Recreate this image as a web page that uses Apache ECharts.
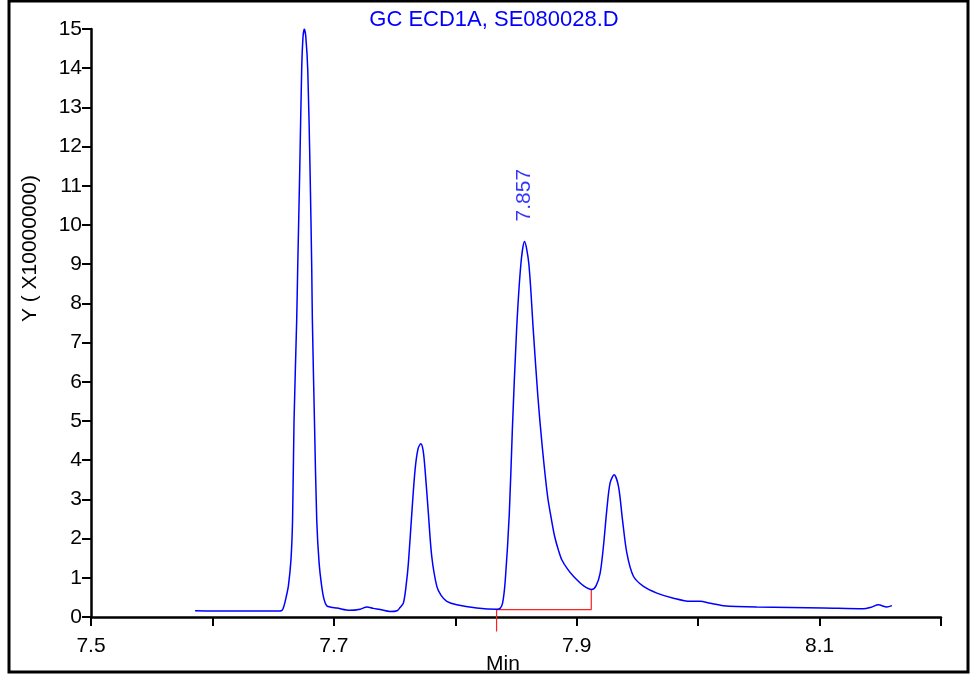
<!DOCTYPE html>
<html>
<head>
<meta charset="utf-8">
<script src="https://cdn.jsdelivr.net/npm/echarts@6/dist/echarts.min.js"></script>
<style>
  html, body { margin: 0; padding: 0; background: #ffffff; }
  #chart { width: 971px; height: 675px; }
</style>
</head>
<body>
<div id="chart"></div>
<script>
// Chromatogram trace: retention time (min) and detector signal (x10,000,000)
const retentionTime = [
  7.5857, 7.6145, 7.6392, 7.6540, 7.6573, 7.6590, 7.6608, 7.6626, 7.6647, 7.6660,
  7.6672, 7.6694, 7.6702, 7.6719, 7.6735, 7.6746, 7.6757, 7.6769, 7.6785, 7.6804,
  7.6818, 7.6823, 7.6841, 7.6859, 7.6878, 7.6900, 7.6919, 7.6941, 7.6977, 7.7024,
  7.7133, 7.7216, 7.7273, 7.7323, 7.7381, 7.7463, 7.7521, 7.7545, 7.7573, 7.7595,
  7.7614, 7.7642, 7.7669, 7.7694, 7.7716, 7.7735, 7.7751, 7.7778, 7.7806, 7.7848,
  7.7883, 7.7930, 7.8012, 7.8177, 7.8342, 7.8369, 7.8390, 7.8412, 7.8445, 7.8470,
  7.8505, 7.8541, 7.8570, 7.8605, 7.8642, 7.8680, 7.8716, 7.8760, 7.8790, 7.8818,
  7.8850, 7.8877, 7.8925, 7.8973, 7.9055, 7.9124, 7.9160, 7.9193, 7.9220, 7.9248,
  7.9275, 7.9308, 7.9344, 7.9377, 7.9413, 7.9467, 7.9550, 7.9660, 7.9797, 7.9934,
  8.0016, 8.0099, 8.0208, 8.0483, 8.1032, 8.1361, 8.1425, 8.1485, 8.1554, 8.1596
];
const signal = [
  0.16, 0.15, 0.15, 0.15, 0.17, 0.29, 0.52, 0.80, 1.47, 2.48,
  5.00, 7.58, 8.86, 11.40, 13.96, 14.80, 15.00, 14.80, 13.96, 11.40,
  8.86, 7.58, 4.90, 2.48, 1.40, 0.78, 0.45, 0.29, 0.25, 0.23,
  0.17, 0.20, 0.255, 0.22, 0.19, 0.14, 0.16, 0.24, 0.36, 0.80,
  1.38, 2.65, 3.76, 4.30, 4.42, 4.25, 3.76, 2.66, 1.55, 0.78,
  0.55, 0.40, 0.31, 0.23, 0.20, 0.22, 0.36, 0.95, 2.65, 4.78,
  7.33, 9.03, 9.58, 9.03, 7.33, 5.63, 4.35, 3.08, 2.52, 2.06,
  1.70, 1.46, 1.22, 1.04, 0.80, 0.70, 0.80, 1.12, 1.80, 2.74,
  3.42, 3.63, 3.33, 2.48, 1.63, 1.04, 0.78, 0.61, 0.48, 0.40,
  0.40, 0.35, 0.29, 0.255, 0.23, 0.21, 0.25, 0.31, 0.255, 0.29
];

// Integration baseline drawn under the 7.857 peak
const baselineTime = [7.834, 7.834, 7.912, 7.912];
const baselineValue = [-0.37, 0.19, 0.19, 0.70];

// Labelled peak
const peakTime = [7.857];
const peakValue = [9.58];

// Axis ticks
const xTickLabels = ['7.5', '7.7', '7.9', '8.1'];
const yTicks = [0, 1, 2, 3, 4, 5, 6, 7, 8, 9, 10, 11, 12, 13, 14, 15];

const FONT = '"Liberation Sans", Arial, Helvetica, sans-serif';

const chart = echarts.init(document.getElementById('chart'), null, { renderer: 'canvas' });

const option = {
  animation: false,
  backgroundColor: '#ffffff',
  title: {
    text: 'GC ECD1A, SE080028.D',
    left: 489,
    top: 4,
    textAlign: 'center',
    textStyle: { color: '#0000ff', fontFamily: FONT, fontSize: 22, fontWeight: 'normal' }
  },
  grid: { left: 91, right: 30, top: 29, bottom: 58 },
  xAxis: {
    type: 'value',
    min: 7.5,
    max: 8.2,
    interval: 0.1,
    axisLine: { lineStyle: { color: '#000000', width: 2.5 } },
    axisTick: { length: 9, lineStyle: { color: '#000000', width: 2 } },
    splitLine: { show: false },
    axisLabel: {
      margin: 19,
      color: '#000000',
      fontFamily: FONT,
      fontSize: 21,
      formatter: function (v) {
        const s = v.toFixed(1);
        return xTickLabels.indexOf(s) >= 0 ? s : '';
      }
    }
  },
  yAxis: {
    type: 'value',
    min: yTicks[0],
    max: yTicks[yTicks.length - 1],
    interval: 1,
    axisLine: { lineStyle: { color: '#000000', width: 2.5 } },
    axisTick: { length: 9, lineStyle: { color: '#000000', width: 2 } },
    splitLine: { show: false },
    axisLabel: {
      margin: 9,
      color: '#000000',
      fontFamily: FONT,
      fontSize: 21
    }
  },
  series: [
    {
      type: 'line',
      data: retentionTime.map((t, i) => [t, signal[i]]),
      showSymbol: false,
      smooth: 0.3,
      lineStyle: { color: '#0000ff', width: 1.5 },
      z: 3
    },
    {
      type: 'line',
      data: baselineTime.map((t, i) => [t, baselineValue[i]]),
      showSymbol: false,
      clip: false,
      lineStyle: { color: '#ff2020', width: 1.2 },
      z: 2
    },
    {
      type: 'scatter',
      data: peakTime.map((t, i) => [t, peakValue[i]]),
      symbolSize: 0,
      label: {
        show: true,
        position: 'top',
        distance: 20,
        rotate: 90,
        align: 'left',
        verticalAlign: 'middle',
        color: '#0000ff',
        fontFamily: FONT,
        fontSize: 21,
        formatter: function (p) { return p.value[0].toFixed(3); }
      },
      z: 4
    }
  ],
  graphic: [
    {
      type: 'text',
      left: 20,
      top: 175,
      rotation: Math.PI / 2,
      style: {
        text: 'Y ( X10000000)',
        fill: '#000000',
        font: '21px ' + FONT
      }
    },
    {
      type: 'text',
      left: 486,
      top: 654,
      style: {
        text: 'Min',
        fill: '#000000',
        font: '21px ' + FONT
      }
    },
    {
      type: 'rect',
      z: 100,
      shape: { x: 9, y: 1, width: 959, height: 671 },
      style: { fill: null, stroke: '#000000', lineWidth: 3 }
    }
  ]
};

chart.setOption(option);
</script>
</body>
</html>
